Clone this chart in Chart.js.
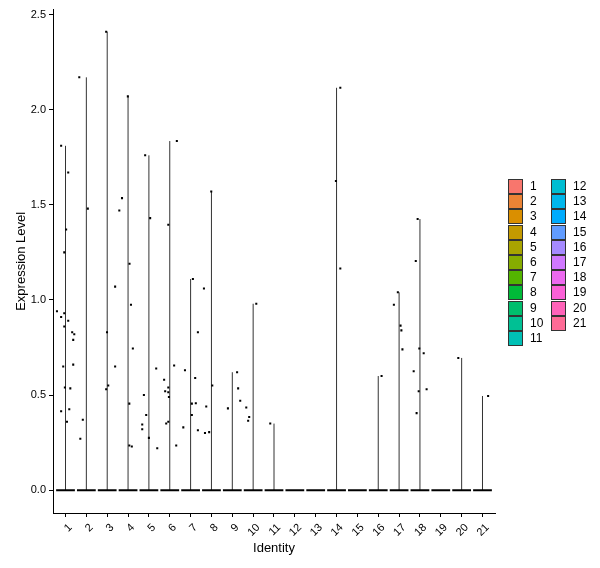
<!DOCTYPE html>
<html>
<head>
<meta charset="utf-8">
<script src="https://cdn.jsdelivr.net/npm/chart.js@4/dist/chart.umd.min.js"></script>
<style>
html, body { margin: 0; padding: 0; background: #fff; }
#wrap { position: relative; width: 600px; height: 568px; }
#legend { position: absolute; left: 0; top: 0; font-family: "Liberation Sans", Arial, sans-serif; font-size: 12px; color: #000; }
.key { position: absolute; width: 15px; height: 15px; box-sizing: border-box; border: 1px solid #333; }
.lab { position: absolute; line-height: 15px; }
</style>
</head>
<body>
<div id="wrap">
  <canvas id="chart" width="600" height="568"></canvas>
  <div id="legend"></div>
</div>
<script>
var identities = ['1','2','3','4','5','6','7','8','9','10','11','12','13','14','15','16','17','18','19','20','21'];
var yTicks = [0, 0.5, 1, 1.5, 2, 2.5];

// non-zero expression values per identity
var exprByIdentity = [
    [1.81, 1.67, 1.37, 1.25, 0.94, 0.91, 0.93, 0.89, 0.86, 0.83, 0.82, 0.79, 0.65, 0.66, 0.54, 0.535, 0.415, 0.425, 0.36],
    [2.17, 1.48, 0.37, 0.27],
    [2.41, 1.07, 0.83, 0.65, 0.55, 0.53],
    [2.07, 1.535, 1.47, 1.19, 0.975, 0.745, 0.455, 0.235, 0.23],
    [1.76, 1.43, 0.64, 0.50, 0.395, 0.345, 0.32, 0.275, 0.22],
    [1.835, 1.395, 0.655, 0.58, 0.54, 0.52, 0.515, 0.49, 0.36, 0.35, 0.235],
    [1.11, 0.83, 0.63, 0.59, 0.455, 0.457, 0.395, 0.33, 0.315],
    [1.57, 1.06, 0.55, 0.44, 0.305, 0.30],
    [0.62, 0.535, 0.47, 0.43],
    [0.98, 0.435, 0.385, 0.365],
    [0.35],
    [],
    [],
    [2.115, 1.625, 1.165],
    [],
    [0.60],
    [1.04, 0.975, 0.865, 0.84, 0.74],
    [1.425, 1.205, 0.745, 0.72, 0.625, 0.52, 0.53, 0.405],
    [],
    [0.695],
    [0.495]
];

// horizontal jitter of each point, in category units
var jitterByIdentity = [
    [-0.21, 0.13, 0.03, -0.06, -0.41, -0.21, -0.06, 0.13, -0.06, 0.32, 0.42, 0.37, -0.11, 0.37, -0.03, 0.23, -0.21, 0.18, 0.07],
    [-0.34, 0.07, -0.17, -0.29],
    [-0.05, 0.38, -0.01, 0.38, 0.05, -0.05],
    [-0.01, -0.29, -0.42, 0.07, 0.14, 0.23, 0.06, 0.06, 0.18],
    [-0.18, 0.06, 0.35, -0.24, -0.13, -0.32, -0.32, 0.0, 0.40],
    [0.34, -0.07, 0.21, -0.27, -0.07, -0.22, -0.07, -0.04, -0.07, -0.17, 0.31],
    [0.11, 0.35, -0.27, 0.22, 0.06, 0.25, 0.06, -0.35, 0.35],
    [-0.01, -0.36, 0.04, -0.25, -0.11, -0.31],
    [0.23, 0.28, 0.38, -0.21],
    [0.15, -0.33, -0.19, -0.24],
    [-0.18],
    [],
    [],
    [0.18, -0.03, 0.18],
    [],
    [0.16],
    [-0.06, -0.25, 0.07, 0.11, 0.16],
    [-0.11, -0.2, -0.03, 0.18, -0.3, -0.06, 0.32, -0.16],
    [],
    [-0.16],
    [0.27]
];

// ggplot-style hue palette (HCL, c=100, l=65)
function hcl(h, c, l) {
    var hr = h * Math.PI / 180;
    var U = c * Math.cos(hr), V = c * Math.sin(hr);
    var Xn = 95.047, Yn = 100, Zn = 108.883;
    var Y = Yn * (l > 7.999592 ? Math.pow((l + 16) / 116, 3) : l / 903.3);
    var d = Xn + 15 * Yn + 3 * Zn;
    var u = U / (13 * l) + 4 * Xn / d;
    var v = V / (13 * l) + 9 * Yn / d;
    var X = 9 * Y * u / (4 * v);
    var Z = -X / 3 - 5 * Y + 3 * Y / v;
    function gam(t) {
        t = t / Yn;
        t = t > 0.00304 ? 1.055 * Math.pow(t, 1 / 2.4) - 0.055 : 12.92 * t;
        return Math.max(0, Math.min(255, Math.round(t * 255)));
    }
    var r = gam(3.240479 * X - 1.537150 * Y - 0.498535 * Z);
    var g = gam(-0.969256 * X + 1.875992 * Y + 0.041556 * Z);
    var b = gam(0.055648 * X - 0.204043 * Y + 1.057311 * Z);
    return 'rgb(' + r + ',' + g + ',' + b + ')';
}

var n = identities.length;
var colors = [];
for (var i = 0; i < n; i++) {
    colors.push(hcl(15 + 360 * i / n, 100, 65));
}

var points = [];
var datasets = [];
for (var i = 0; i < n; i++) {
    var vals = exprByIdentity[i];
    for (var j = 0; j < vals.length; j++) {
        points.push({x: i + 1 + jitterByIdentity[i][j], y: vals[j]});
    }
}
datasets.push({
    data: points,
    pointStyle: 'rect',
    pointRadius: 1.45,
    pointHoverRadius: 1.45,
    pointBackgroundColor: '#000',
    pointBorderWidth: 0
});

for (var i = 0; i < n; i++) {
    var vals = exprByIdentity[i];
    var maxVal = vals.length ? Math.max.apply(null, vals) : 0;
    datasets.push({
        data: [{x: i + 1 - 0.45, y: 0}, {x: i + 1 + 0.45, y: 0}],
        showLine: true,
        borderColor: '#000',
        borderWidth: 2,
        pointRadius: 0
    });
    if (maxVal > 0) {
        datasets.push({
            data: [{x: i + 1, y: 0}, {x: i + 1, y: maxVal}],
            showLine: true,
            borderColor: '#333',
            borderWidth: 1,
            pointRadius: 0
        });
    }
}

var fontFam = '"Liberation Sans", Arial, sans-serif';
var ctx = document.getElementById('chart').getContext('2d');
var chart = new Chart(ctx, {
    type: 'scatter',
    data: { datasets: datasets },
    options: {
        responsive: false,
        animation: false,
        devicePixelRatio: 1,
        layout: { padding: { left: 0, right: 105, top: 3, bottom: 0 } },
        plugins: { legend: { display: false }, tooltip: { enabled: false } },
        scales: {
            x: {
                type: 'linear',
                min: 0.4,
                max: 21.6,
                afterBuildTicks: function (scale) {
                    scale.ticks = identities.map(function (_, k) { return {value: k + 1}; });
                },
                afterFit: function (scale) { scale.height = 55; },
                grid: { display: true, drawOnChartArea: false, drawTicks: true, tickLength: 4, color: '#000' },
                border: { display: true, color: '#000', width: 1 },
                ticks: {
                    autoSkip: false,
                    minRotation: 45,
                    maxRotation: 45,
                    padding: 4,
                    labelOffset: 5,
                    color: '#000',
                    font: { family: fontFam, size: 11 },
                    callback: function (v) { return identities[v - 1]; }
                },
                title: {
                    display: true,
                    text: 'Identity',
                    color: '#000',
                    font: { family: fontFam, size: 13 },
                    padding: { top: 0, bottom: 12 }
                }
            },
            y: {
                type: 'linear',
                min: -0.12,
                max: 2.526,
                afterBuildTicks: function (scale) {
                    scale.ticks = yTicks.map(function (v) { return {value: v}; });
                },
                afterFit: function (scale) { scale.width = 53; },
                grid: { display: true, drawOnChartArea: false, drawTicks: true, tickLength: 4, color: '#000' },
                border: { display: true, color: '#000', width: 1 },
                ticks: {
                    padding: 3,
                    color: '#000',
                    font: { family: fontFam, size: 11 },
                    callback: function (v) { return v.toFixed(1); }
                },
                title: {
                    display: true,
                    text: 'Expression Level',
                    color: '#000',
                    font: { family: fontFam, size: 13 },
                    padding: { top: 14, bottom: 0 }
                }
            }
        }
    }
});

// legend, two columns like ggplot
var legendBox = document.getElementById('legend');
for (var i = 0; i < n; i++) {
    var col = i < 11 ? 0 : 1;
    var row = i < 11 ? i : i - 11;
    var keyTop = 179 + row * 15.2;
    var keyLeft = col === 0 ? 508 : 551;
    var key = document.createElement('div');
    key.className = 'key';
    key.style.left = keyLeft + 'px';
    key.style.top = keyTop + 'px';
    key.style.background = colors[i];
    legendBox.appendChild(key);
    var lab = document.createElement('div');
    lab.className = 'lab';
    lab.style.left = (keyLeft + 22) + 'px';
    lab.style.top = keyTop + 'px';
    lab.textContent = identities[i];
    legendBox.appendChild(lab);
}
</script>
</body>
</html>
